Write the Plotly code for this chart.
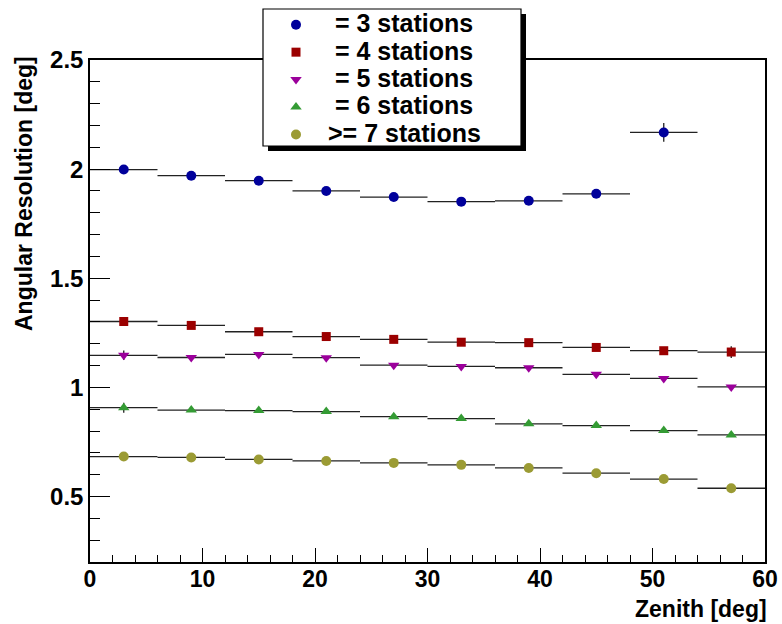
import plotly.graph_objects as go

zenith = [3, 9, 15, 21, 27, 33, 39, 45, 51, 57]
bin_half = 3

res3 = [1.998, 1.970, 1.947, 1.900, 1.872, 1.851, 1.855, 1.887, 2.168]
err3 = [0.005, 0.005, 0.005, 0.005, 0.005, 0.005, 0.006, 0.008, 0.043]
res4 = [1.302, 1.284, 1.255, 1.233, 1.220, 1.207, 1.205, 1.183, 1.168, 1.162]
err4 = [0.004, 0.004, 0.004, 0.004, 0.004, 0.004, 0.005, 0.006, 0.010, 0.027]
res5 = [1.147, 1.137, 1.151, 1.136, 1.102, 1.096, 1.090, 1.060, 1.041, 1.002]
err5 = [0.022, 0.004, 0.004, 0.004, 0.004, 0.004, 0.004, 0.005, 0.006, 0.008]
res6 = [0.907, 0.896, 0.894, 0.889, 0.866, 0.857, 0.833, 0.825, 0.802, 0.782]
err6 = [0.023, 0.004, 0.004, 0.004, 0.004, 0.004, 0.004, 0.004, 0.005, 0.006]
res7 = [0.683, 0.679, 0.670, 0.663, 0.654, 0.645, 0.631, 0.607, 0.580, 0.538]
err7 = [0.004, 0.003, 0.003, 0.003, 0.003, 0.003, 0.003, 0.004, 0.004, 0.005]

labels = ["&nbsp;= 3 stations", "&nbsp;= 4 stations", "&nbsp;= 5 stations",
          "&nbsp;= 6 stations", ">= 7 stations"]

series = [
    (labels[0], res3, err3, "circle", "#00009b", 10),
    (labels[1], res4, err4, "square", "#9b0000", 9),
    (labels[2], res5, err5, "triangle-down", "#9b009b", 10),
    (labels[3], res6, err6, "triangle-up", "#349b34", 10),
    (labels[4], res7, err7, "circle", "#9b9b34", 10),
]

W, H = 782, 624
L, R, T, B = 90, 17, 60, 62
PW, PH = W - L - R, H - T - B


def px_x(p):
    return (p - L) / PW


def px_y(p):
    return (H - B - p) / PH


fig = go.Figure()
for name, vals, errs, sym, col, size in series:
    n = len(vals)
    fig.add_trace(go.Scatter(
        x=zenith[:n], y=vals, mode="markers",
        name="<span style='font-size:25px'>" + name + "</span>",
        marker=dict(symbol=sym, color=col, size=size, line=dict(width=0)),
        error_x=dict(type="constant", value=bin_half, width=0, thickness=1.3, color="#222"),
        error_y=dict(type="data", array=errs, width=0, thickness=1.3, color="#222"),
    ))

font_b = dict(family="Liberation Sans", size=24, color="black", weight="bold")
font_bx = dict(family="Liberation Sans", size=23, color="black", weight="bold")

# legend frame (box with shadow)
bx0, by0, bx1, by1 = 263, 9, 521, 146
fig.add_shape(type="rect", xref="paper", yref="paper",
              x0=px_x(bx0 + 5), x1=px_x(bx1 + 5), y0=px_y(by0 + 5), y1=px_y(by1 + 5),
              fillcolor="black", line=dict(width=0), layer="above")
fig.add_shape(type="rect", xref="paper", yref="paper",
              x0=px_x(bx0), x1=px_x(bx1), y0=px_y(by0), y1=px_y(by1),
              fillcolor="white", line=dict(color="black", width=1.2), layer="above")

fig.update_layout(
    width=W, height=H,
    margin=dict(l=L, r=R, t=T, b=B, autoexpand=False),
    plot_bgcolor="white", paper_bgcolor="white",
    showlegend=True,
    legend=dict(x=px_x(bx0 + 1), y=px_y(6), xanchor="left", yanchor="top",
                bgcolor="rgba(0,0,0,0)", borderwidth=0,
                font=dict(family="Liberation Sans", size=18.8, color="black", weight="bold"),
                itemwidth=54, tracegroupgap=0),
    xaxis=dict(range=[0, 60], showgrid=False, zeroline=False, showline=True, linecolor="black",
               linewidth=1.5, mirror=True, ticks="inside", ticklen=14, tickwidth=1.2, tickcolor="black",
               dtick=10, tick0=0, tickfont=font_bx, ticklabelstandoff=-4,
               minor=dict(ticks="inside", ticklen=7, dtick=2, tickcolor="black", tickwidth=1.2)),
    yaxis=dict(range=[0.2, 2.5], showgrid=False, zeroline=False, showline=True, linecolor="black",
               linewidth=1.5, mirror=True, ticks="inside", ticklen=20, tickwidth=1.2, tickcolor="black",
               dtick=0.5, tick0=0, tickfont=font_b,
               minor=dict(ticks="inside", ticklen=10, dtick=0.1, tickcolor="black", tickwidth=1.2)),
)

fig.add_annotation(text="Angular Resolution [deg]", xref="paper", yref="paper",
                   x=px_x(24), y=px_y(194), textangle=-90,
                   xanchor="center", yanchor="middle", showarrow=False,
                   font=dict(family="Liberation Sans", size=23, color="black", weight="bold"))
fig.add_annotation(text="Zenith [deg]", xref="paper", yref="paper",
                   x=px_x(769), y=px_y(609), xanchor="right", yanchor="middle", showarrow=False,
                   font=dict(family="Liberation Sans", size=23, color="black", weight="bold"))

fig.write_html("out.html")
